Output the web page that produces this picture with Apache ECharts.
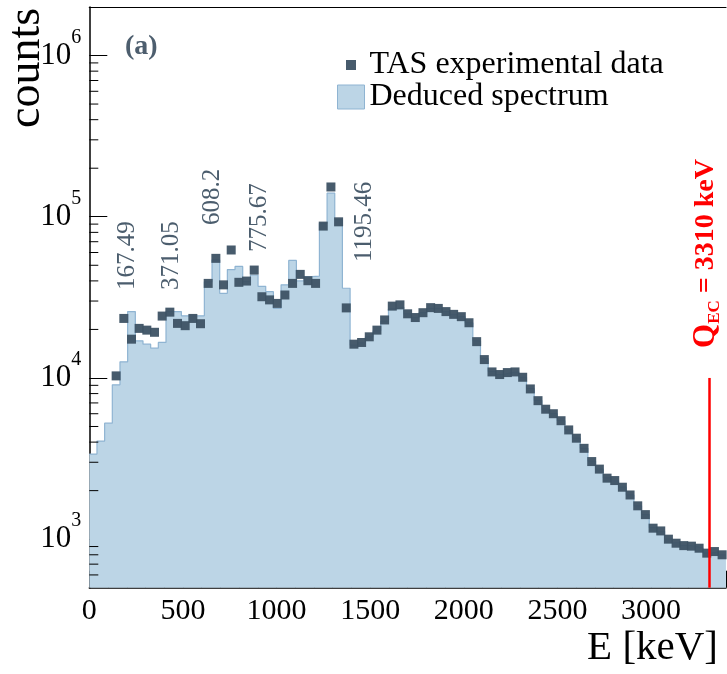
<!DOCTYPE html>
<html>
<head>
<meta charset="utf-8">
<script src="https://cdn.jsdelivr.net/npm/echarts@6/dist/echarts.min.js"></script>
<style>
  html, body { margin: 0; padding: 0; background: #ffffff; }
  #chart { width: 727px; height: 674px; }
</style>
</head>
<body>
<div id="chart"></div>
<script>
// Energy binning of the spectra (keV per bin, bins start at 0 keV)
const binWidth = 40.96;

// Deduced spectrum, counts per bin (bin 0 .. 82)
const deducedCounts = [
  3370, 4060, 5240, 9060, 12600, 25800, 17000, 16200, 15300, 16600,
  25800, 25800, 24300, 24300, 24300, 39500, 54000, 33500, 47000, 49200,
  39700, 43500, 37000, 34300, 27000, 37800, 53600, 40000, 42500, 42800,
  91000, 140000, 96000, 36000, 16000, 16500, 18000, 19600, 22500, 26800,
  27500, 25000, 23700, 25400, 27000, 27000, 25800, 24800, 24000, 22000,
  17000, 13200, 11000, 10500, 10800, 10900, 10100, 8600, 7250, 6400,
  6000, 5430, 4760, 4230, 3660, 3050, 2720, 2400, 2300, 2100,
  1880, 1610, 1420, 1180, 1120, 1000, 950, 915, 905, 880,
  820, 835, 800
];

// TAS experimental data, counts per bin (no data in the first three bins)
const tasCounts = [
  null, null, null, 10300, 23400, 17400, 20300, 19800, 19200, 24200,
  25600, 21800, 21100, 23400, 21700, 38600, 55200, 37800, 62200, 39200,
  39900, 46700, 31900, 30500, 29000, 32700, 38600, 43900, 40100, 38600,
  87500, 153000, 93000, 27200, 16200, 16600, 18000, 19800, 22900, 27900,
  28400, 25000, 23700, 25400, 27300, 27000, 25800, 24800, 24000, 22000,
  16800, 13000, 10900, 10500, 10800, 10900, 10100, 8550, 7230, 6400,
  6000, 5430, 4760, 4230, 3660, 3030, 2720, 2390, 2310, 2100,
  1880, 1610, 1420, 1170, 1125, 1000, 944, 912, 905, 879,
  819, 838, 800
];

// Gamma-ray energies marked above the spectrum (keV)
const gammaLines = ['167.49', '371.05', '608.2', '775.67', '1195.46'];

// Decay Q value (keV)
const qEc = 3310;

// Axis ranges
const eMin = 0, eMax = 3400, eStep = 500;
const countsMin = 500, countsMax = 2e6;

const serif = '"Liberation Serif", "Times New Roman", serif';

// Histogram outline: one point per left bin edge plus the closing edge
const deducedSteps = deducedCounts.map((c, i) => [i * binWidth, c]);
deducedSteps.push([deducedCounts.length * binWidth, deducedCounts[deducedCounts.length - 1]]);

// Data points at bin centres
const tasPoints = [];
tasCounts.forEach((c, i) => { if (c != null) tasPoints.push([(i + 0.5) * binWidth, c]); });

// Minor log ticks (2..9 x 10^n) inside the counts range
const minorLogTicks = [];
for (let n = 2; n <= 6; n++) {
  for (let m = 2; m <= 9; m++) {
    const v = m * Math.pow(10, n);
    if (v > countsMin && v < countsMax) minorLogTicks.push([eMin, v]);
  }
}

const chart = echarts.init(document.getElementById('chart'), null, { renderer: 'canvas' });

const option = {
  animation: false,
  backgroundColor: '#ffffff',
  title: {
    text: '(a)',
    left: 120, top: 28,
    textStyle: { fontFamily: serif, fontWeight: 'bold', fontSize: 28, color: '#4d5e6e' }
  },
  legend: {
    orient: 'vertical',
    left: 337, top: 49,
    padding: 0,
    itemWidth: 27, itemHeight: 24, itemGap: 0,
    selectedMode: false,
    textStyle: { fontFamily: serif, fontSize: 32, color: '#000000' },
    data: [
      { name: 'TAS experimental data', icon: 'path://M0,0M27,24M8.5,7h10v10h-10z',
        itemStyle: { color: '#3d5264' } },
      { name: 'Deduced spectrum', icon: 'rect',
        itemStyle: { color: '#bcd5e6', borderColor: '#8fb4d2', borderWidth: 1 } }
    ]
  },
  grid: { left: 89.3, right: 1, top: 7, bottom: 86.3, containLabel: false, outerBoundsMode: 'none' },
  xAxis: [{
    type: 'value',
    min: eMin, max: eMax, interval: eStep,
    name: 'E [keV]',
    nameLocation: 'end',
    nameGap: -8,
    nameTextStyle: { fontFamily: serif, fontSize: 41, color: '#000000',
      align: 'right', verticalAlign: 'top', padding: [40, 0, 0, 0] },
    axisLine: { show: true, onZero: false, lineStyle: { color: '#000000', width: 1.5 } },
    axisTick: { show: true, inside: true, length: 17, lineStyle: { color: '#000000', width: 1 } },
    minorTick: { show: true, splitNumber: 5, length: 8, lineStyle: { color: '#000000', width: 1 } },
    axisLabel: { fontFamily: serif, fontSize: 30, color: '#000000', margin: 8,
      showMaxLabel: false,
      formatter: function (v) { return String(v); } },
    splitLine: { show: false },
    minorSplitLine: { show: false }
  }, {
    type: 'value',
    position: 'top',
    min: eMin, max: eMax,
    axisLine: { show: true, onZero: false, lineStyle: { color: '#000000', width: 1.2 } },
    axisTick: { show: false },
    axisLabel: { show: false },
    splitLine: { show: false }
  }],
  yAxis: {
    type: 'log',
    logBase: 10,
    min: countsMin, max: countsMax,
    axisLine: { show: true, onZero: false, lineStyle: { color: '#000000', width: 1.5 } },
    axisTick: { show: true, inside: true, length: 18, lineStyle: { color: '#000000', width: 1 } },
    minorTick: { show: false },
    axisLabel: {
      margin: 8,
      showMinLabel: false, showMaxLabel: false,
      formatter: function (v) {
        const e = Math.log10(v);
        const n = Math.round(e);
        if (Math.abs(e - n) > 1e-6) return '';
        return '{b|10}{s|' + n + '}';
      },
      rich: {
        b: { fontFamily: serif, fontSize: 31, color: '#000000', lineHeight: 56 },
        s: { fontFamily: serif, fontSize: 20, color: '#000000', verticalAlign: 'top', lineHeight: 56 }
      }
    },
    splitLine: { show: false }
  },
  series: [
    {
      name: 'Deduced spectrum',
      type: 'line',
      step: 'end',
      data: deducedSteps,
      symbol: 'none',
      lineStyle: { color: '#8fb4d2', width: 1.2 },
      itemStyle: { color: '#bcd5e6' },
      areaStyle: { color: '#bcd5e6', opacity: 1, origin: 'start' },
      z: 2
    },
    {
      name: 'TAS experimental data',
      type: 'scatter',
      data: tasPoints,
      symbol: 'rect',
      symbolSize: 9,
      itemStyle: { color: '#3d5264', opacity: 0.95 },
      z: 3,
      markLine: {
        silent: true,
        symbol: ['none', 'none'],
        label: { show: false },
        lineStyle: { color: '#ff0000', width: 2.5, type: 'solid' },
        data: [[{ coord: [qEc, 10000] }, { coord: [qEc, countsMin] }]]
      }
    },
    {
      name: 'minorTicks',
      type: 'custom',
      silent: true,
      data: minorLogTicks,
      renderItem: function (params, api) {
        const p = api.coord([api.value(0), api.value(1)]);
        return {
          type: 'line',
          shape: { x1: p[0], y1: p[1], x2: p[0] + 9, y2: p[1] },
          style: { stroke: '#000000', lineWidth: 1 }
        };
      },
      z: 5
    }
  ]
};

chart.setOption(option);

// Vertical axis title, reading upwards from the left edge
const graphics = [{
  type: 'text',
  x: 27, y: 128,
  rotation: Math.PI / 2,
  silent: true,
  style: {
    text: 'counts',
    x: 0, y: 0,
    align: 'left', verticalAlign: 'middle',
    textAlign: 'left', textVerticalAlign: 'middle',
    fontFamily: serif, fontSize: 46,
    fill: '#000000'
  }
}];

// Rotated annotation texts placed in data coordinates
const peakNotes = [
  { text: gammaLines[0], at: [201, 35100] },
  { text: gammaLines[1], at: [441, 35100] },
  { text: gammaLines[2], at: [660, 88800] },
  { text: gammaLines[3], at: [906, 60400] },
  { text: gammaLines[4], at: [1467, 52400] }
];

peakNotes.forEach(function (n) {
  const p = chart.convertToPixel({ gridIndex: 0 }, n.at);
  graphics.push({
    type: 'text',
    x: p[0], y: p[1],
    rotation: Math.PI / 2,
    silent: true,
    style: {
      text: n.text,
      x: 0, y: 0,
      align: 'left', verticalAlign: 'middle',
      textAlign: 'left', textVerticalAlign: 'middle',
      fontFamily: serif, fontSize: 25,
      fill: '#4b5d6d'
    }
  });
});

const qPos = chart.convertToPixel({ gridIndex: 0 }, [3293, 15350]);
graphics.push({
  type: 'text',
  x: qPos[0], y: qPos[1],
  rotation: Math.PI / 2,
  silent: true,
  style: {
    text: '{q|Q}{sub|EC}{r| = ' + qEc + ' keV}',
    x: 0, y: 0,
    align: 'left', verticalAlign: 'middle',
    textAlign: 'left', textVerticalAlign: 'middle',
    rich: {
      q: { fontFamily: serif, fontWeight: 'bold', fontSize: 31, fill: '#ff0000', lineHeight: 34 },
      sub: { fontFamily: serif, fontWeight: 'bold', fontSize: 17, fill: '#ff0000', verticalAlign: 'bottom', lineHeight: 34 },
      r: { fontFamily: serif, fontWeight: 'bold', fontSize: 28, fill: '#ff0000', lineHeight: 34 }
    }
  }
});

chart.setOption({ graphic: graphics });
</script>
</body>
</html>
